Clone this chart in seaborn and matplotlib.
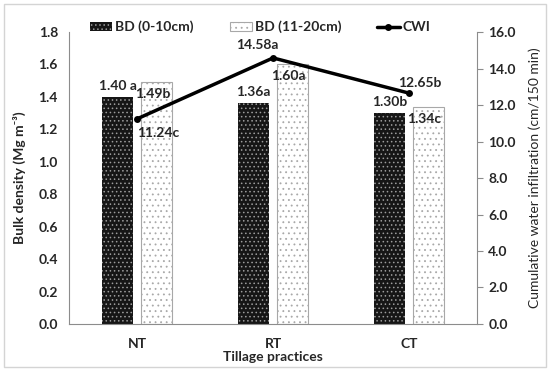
import pandas as pd
import seaborn as sns
import matplotlib.pyplot as plt
from matplotlib.lines import Line2D
from matplotlib.patches import Patch, Rectangle

# chart values
practices = ["NT", "RT", "CT"]
bd_top = [1.40, 1.36, 1.30]
bd_sub = [1.49, 1.60, 1.34]
cwi = [11.24, 14.58, 12.65]
bd_top_lbl = ["1.40 a", "1.36a", "1.30b"]
bd_sub_lbl = ["1.49b", "1.60a", "1.34c"]
cwi_lbl = ["11.24c", "14.58a", "12.65b"]
left_ticks = [0.0, 0.2, 0.4, 0.6, 0.8, 1.0, 1.2, 1.4, 1.6, 1.8]
right_ticks = [0.0, 2.0, 4.0, 6.0, 8.0, 10.0, 12.0, 14.0, 16.0]

df = pd.DataFrame({
    "Tillage": practices * 2,
    "Depth": ["BD (0-10cm)"] * 3 + ["BD (11-20cm)"] * 3,
    "BD": bd_top + bd_sub,
})

sns.set_theme(style="white")
plt.rcParams['font.family'] = ['Lato', 'DejaVu Sans']
plt.rcParams['hatch.linewidth'] = 0.6

fig = plt.figure(figsize=(5.5, 3.71), dpi=100)
ax = fig.add_axes([0.1255, 0.1267, 0.742, 0.787])
fig.patches.append(Rectangle((0.007, 0.01), 0.985, 0.98, transform=fig.transFigure,
                             fill=False, edgecolor="#d4d4d4", linewidth=1))

sns.barplot(data=df, x="Tillage", y="BD", hue="Depth", order=practices,
            palette=["#1a1a1a", "white"], width=0.573, gap=0.19,
            legend=False, ax=ax)

dark_style = dict(facecolor="#161616", edgecolor="#9c9c9c", hatch="....", linewidth=0)
light_style = dict(facecolor="white", edgecolor="#a8a8a8", hatch="...", linewidth=0.8)
n = len(practices)
for i, bar in enumerate(ax.patches[:2 * n]):
    st = dark_style if i < n else light_style
    bar.set_facecolor(st["facecolor"])
    bar.set_edgecolor(st["edgecolor"])
    bar.set_hatch(st["hatch"])
    bar.set_linewidth(st["linewidth"])

ax.set_xlim(-0.5, 2.5)
ax.set_ylim(0, 1.8)
ax.set_yticks(left_ticks)
ax.set_yticklabels([f"{t:.1f}" for t in left_ticks], fontweight="bold", fontsize=10)
ax.set_xticks(range(n))
ax.set_xticklabels(practices, fontweight="bold", fontsize=10)
ax.set_xlabel("Tillage practices", fontweight="bold", fontsize=10, labelpad=1)
ax.set_ylabel("Bulk density (Mg m⁻³)", fontweight="bold", fontsize=10, labelpad=9)
ax.tick_params(axis="x", length=0, pad=10)
ax.tick_params(axis="y", length=0, pad=8)
for s in ["top", "right"]:
    ax.spines[s].set_visible(False)
for s in ["left", "bottom"]:
    ax.spines[s].set_color("#8c8c8c")
    ax.spines[s].set_linewidth(0.8)

ax2 = ax.twinx()
sns.lineplot(x=list(range(n)), y=cwi, color="black", linewidth=2.5, marker="o",
             markersize=5, markeredgewidth=0, ax=ax2)
ax2.set_ylim(0, 16)
ax2.set_yticks(right_ticks)
ax2.set_yticklabels([f"{t:.1f}" for t in right_ticks], fontweight="bold", fontsize=10)
ax2.set_ylabel("Cumulative water infiltration (cm/150 min)", fontsize=10, labelpad=9)
ax2.tick_params(axis="y", length=4, width=0.8, color="#8c8c8c", direction="out", pad=4)
for s in ["top", "left", "bottom"]:
    ax2.spines[s].set_visible(False)
ax2.spines["right"].set_color("#8c8c8c")
ax2.spines["right"].set_linewidth(0.8)

# value labels (offsets in pixels)
off = 0.143
for i in range(n):
    ax.annotate(bd_top_lbl[i], (i - off, bd_top[i]), xytext=(0, 11),
                textcoords="offset pixels", ha="center", va="center",
                fontweight="bold", fontsize=10)
    ax.annotate(bd_sub_lbl[i], (i + off, bd_sub[i]), xytext=(-4, -12),
                textcoords="offset pixels", ha="center", va="center",
                fontweight="bold", fontsize=10)
cwi_offsets = [(21, -14), (-16, 13), (11, 10)]
for i in range(n):
    ax2.annotate(cwi_lbl[i], (i, cwi[i]), xytext=cwi_offsets[i],
                 textcoords="offset pixels", ha="center", va="center",
                 fontweight="bold", fontsize=10)

handles = [
    Patch(**dark_style),
    Patch(**light_style),
    Line2D([0], [0], color="black", linewidth=2.5, marker="o", markersize=4),
]
fig.legend(handles, ["BD (0-10cm)", "BD (11-20cm)", "CWI"], ncol=3,
           loc="center", bbox_to_anchor=(0.473, 0.927), frameon=False,
           prop={"weight": "bold", "size": 10}, handlelength=1.6,
           handleheight=0.55, handletextpad=0.2, columnspacing=2.6)

plt.savefig("out.png", dpi=100)
